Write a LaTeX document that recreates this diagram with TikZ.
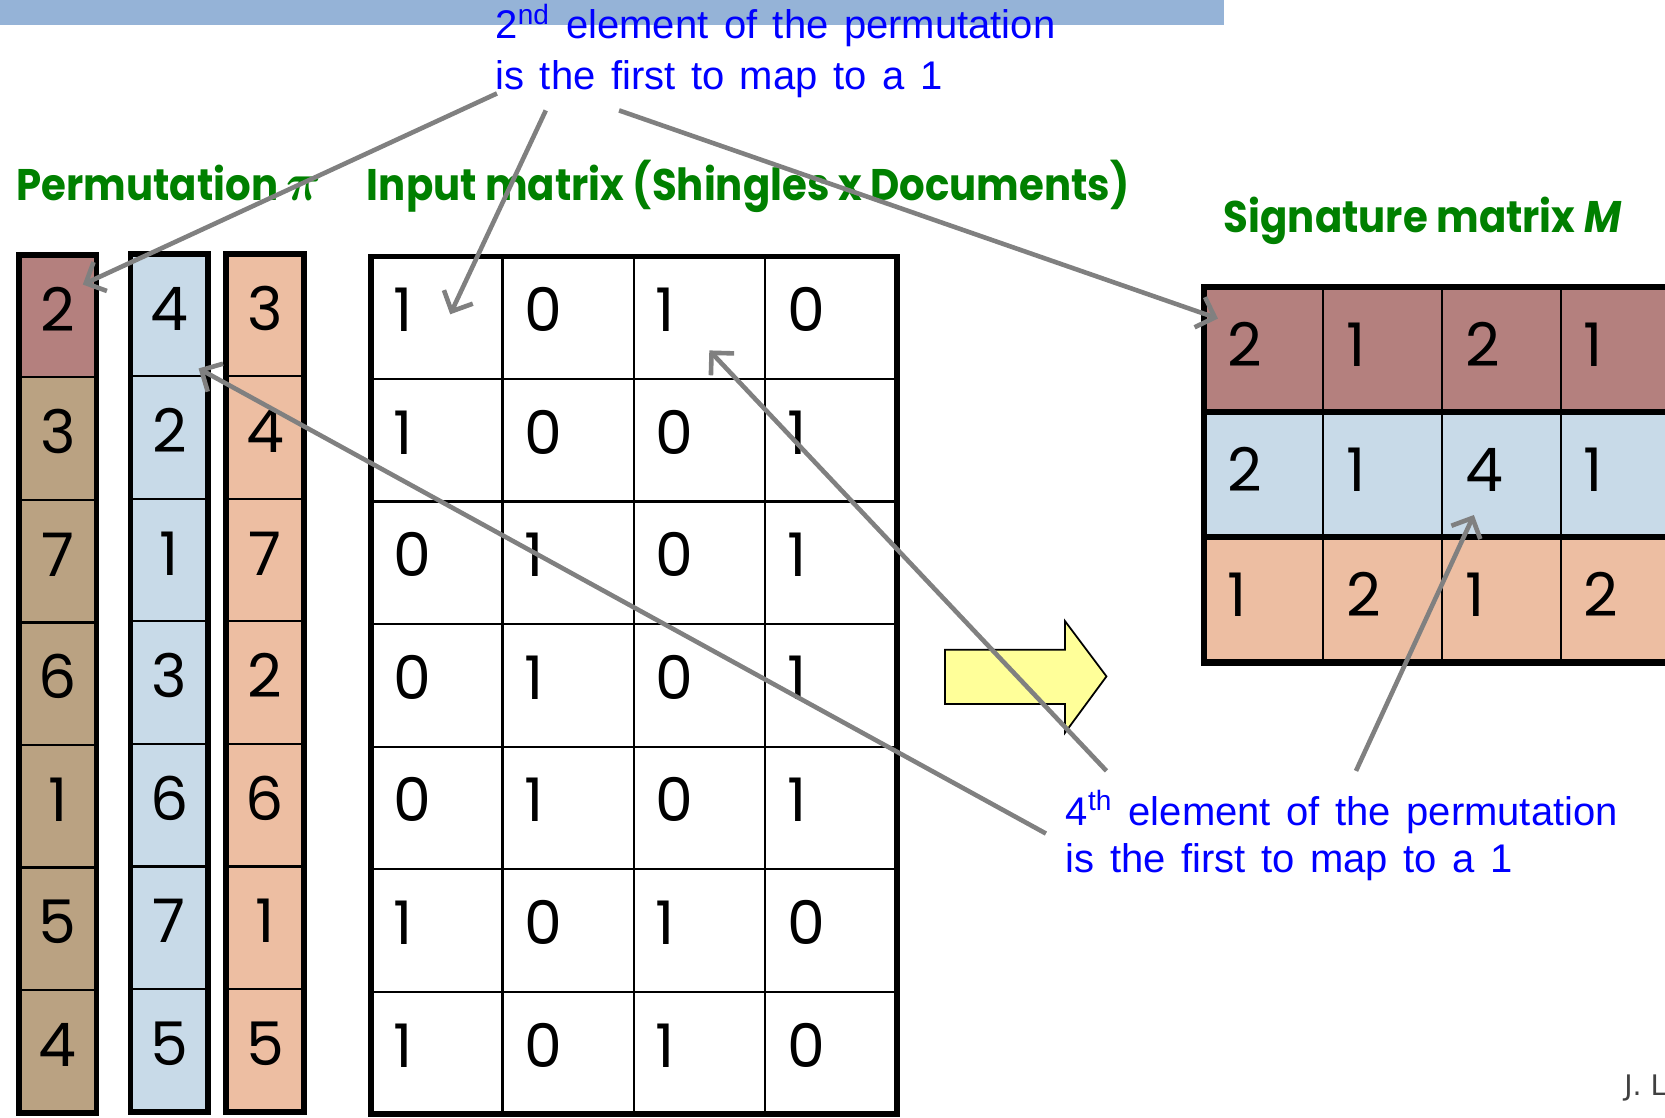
\documentclass[tikz,border=0pt]{standalone}
\usepackage{fontspec}
\usepackage{bm}
\usepackage{tikz}
\usetikzlibrary{arrows.meta}

\newfontfamily\cellfont{Poppins}
\newfontfamily\notefont[WordSpace=1.4]{Liberation Sans}
\newfontfamily\footfont{DejaVu Sans}

\definecolor{barblue}{HTML}{95B3D7}
\definecolor{headgreen}{HTML}{008000}
\definecolor{notecolor}{HTML}{0000FF}
\definecolor{pointgray}{HTML}{808080}
\definecolor{footgray}{HTML}{404040}
\definecolor{sigrose}{HTML}{B4807E}
\definecolor{permtan}{HTML}{BAA282}
\definecolor{permblue}{HTML}{C8DAE8}
\definecolor{permpeach}{HTML}{EDBEA2}
\definecolor{arrowyellow}{HTML}{FFFF99}

\begin{document}
\begin{tikzpicture}[x=0.3pt,y=-0.3pt,
  thin line/.style={line width=0.6pt},
  thick line/.style={line width=1.6pt},
  digit/.style={font=\cellfont\fontsize{17}{17}\selectfont,inner sep=0pt},
  heading/.style={font=\cellfont\bfseries\fontsize{12.5}{14}\selectfont,
    text=headgreen,anchor=base west,inner sep=0pt,xscale=0.91},
  note/.style={font=\notefont\fontsize{11.3}{13}\selectfont,text=notecolor,
    anchor=base west,inner sep=0pt},
  pointer/.style={draw=pointgray,line width=1.3pt,
    -{Straight Barb[length=4.5pt,width=9pt]}}]
  \clip (0,0) rectangle (1568,1052);

  % title bar
  \fill[barblue] (0,0) rectangle (1153,24);

  % notes
  \node[note] (topnote1) at (466,36) {2\textsuperscript{nd} element of the permutation};
  \node[note] (topnote2) at (466,84) {is the first to map to a 1};
  \node[note] (botnote1) at (1003,777) {4\textsuperscript{th} element of the permutation};
  \node[note] (botnote2) at (1003,822) {is the first to map to a 1};

  % headings
  \node[heading] (permhead) at (15,189) {Permutation \scalebox{1.25}{$\bm{\pi}$}};
  \node[heading] (inhead) at (345,189) {Input matrix (Shingles x Documents)};
  \node[heading] (sighead) at (1152,219) {Signature matrix \textit{M}};

  % permutations
  \foreach \c/\xl/\yt/\vals/\fc in {1/18/240/{2,3,7,6,1,5,4}/permtan,
      2/123/239/{4,2,1,3,6,7,5}/permblue,3/213/239/{3,4,7,2,6,1,5}/permpeach} {
    \fill[\fc] (\xl,\yt) rectangle ++(73,808);
    \foreach \r in {1,...,6}
      \draw[thin line] (\xl,{\yt+\r*115.4}) -- ++(73,0);
    \foreach \v [count=\r] in \vals
      \node[digit,anchor=base] (perm-\c-\r) at ({\xl+36.5},{\yt+(\r-1)*115.4+72}) {\v};
  }
  \fill[sigrose] (18,240) rectangle ++(73,115.4);
  \draw[thin line] (18,355.4) -- ++(73,0);
  \node[digit,anchor=base] at (perm-1-1.base) {2};
  \foreach \xl/\yt in {18/240,123/239,213/239}
    \draw[thick line] (\xl,\yt) rectangle ++(73,808);

  % input matrix
  \foreach \row [count=\r] in {{1,0,1,0},{1,0,0,1},{0,1,0,1},{0,1,0,1},
      {0,1,0,1},{1,0,1,0},{1,0,1,0}}
    \foreach \v [count=\c] in \row
      \node[digit,anchor=base west] (in-\r-\c) at ({349.5+(\c-1)*123.75+20},{241.5+(\r-1)*115.4+71}) {\v};
  \foreach \c in {1,2,3}
    \draw[thin line] ({349.5+\c*123.75},241.5) -- ++(0,807.5);
  \foreach \r in {1,...,6}
    \draw[thin line] (349.5,{241.5+\r*115.4}) -- ++(495,0);
  \draw[thick line] (349.5,241.5) rectangle (844.5,1049);

  % signature matrix
  \foreach \fc [count=\r] in {sigrose,permblue,permpeach}
    \fill[\fc] (1134,{270+(\r-1)*118}) rectangle ++(470,118);
  \foreach \row [count=\r] in {{2,1,2,1},{2,1,4,1},{1,2,1,2}}
    \foreach \v [count=\c] in \row
      \node[digit,anchor=base west] (sig-\r-\c) at ({1134+(\c-1)*112+21},{270+(\r-1)*118+75}) {\v};
  \foreach \c in {1,2,3}
    \draw[thin line] ({1134+\c*112},270) -- ++(0,354);
  \foreach \r in {1,2}
    \draw[line width=1.8pt] (1134,{270+\r*118}) -- ++(470,0);
  \draw[line width=1.8pt] (1134,270) rectangle (1604,624);

  % block arrow
  \draw[fill=arrowyellow,line width=0.5pt] (890,612) -- (1003,612) -- (1003,585)
    -- (1042,637) -- (1003,690) -- (1003,663) -- (890,663) -- cycle;

  % pointers
  \coordinate (top-a) at (468,88);   \coordinate (hit-perm) at (78,268);
  \coordinate (top-b) at (514,104);  \coordinate (hit-in) at (424,296);
  \coordinate (top-c) at (583,104);  \coordinate (hit-sig) at (1147,300);
  \coordinate (bot-a) at (985,785);  \coordinate (hit-perm2) at (187,347);
  \coordinate (bot-b) at (1042,726); \coordinate (hit-in2) at (668,330);
  \coordinate (bot-c) at (1277,726); \coordinate (hit-sig2) at (1388,485);
  \draw[pointer] (top-a) -- (hit-perm);
  \draw[pointer] (top-b) -- (hit-in);
  \draw[pointer] (top-c) -- (hit-sig);
  \draw[pointer] (bot-a) -- (hit-perm2);
  \draw[pointer] (bot-b) -- (hit-in2);
  \draw[pointer] (bot-c) -- (hit-sig2);

  \node[font=\footfont\fontsize{8}{9}\selectfont,text=footgray,anchor=base west,
    inner sep=0pt] (credit) at (1529,1032) {J. L};
\end{tikzpicture}
\end{document}
